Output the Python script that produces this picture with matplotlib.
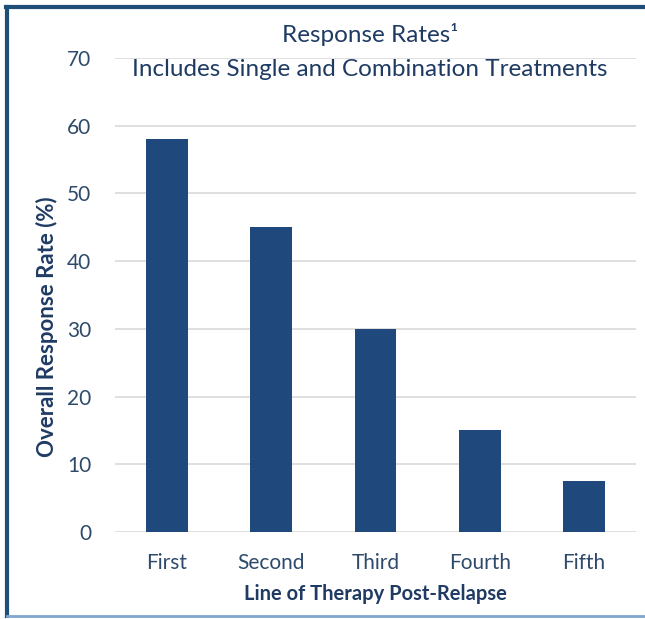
import matplotlib.pyplot as plt
from matplotlib.lines import Line2D

# response rate by line of therapy post-relapse
lines = ["First", "Second", "Third", "Fourth", "Fifth"]
response_rate = [58, 45, 30, 15, 7.5]
y_ticks = [0, 10, 20, 30, 40, 50, 60, 70]

BAR_COLOR = "#1F497D"
TEXT_COLOR = "#1F3B63"
TICK_COLOR = "#2E4A6B"
GRID_COLOR = "#D9D9D9"

plt.rcParams["font.family"] = ["Lato", "DejaVu Sans"]

fig = plt.figure(figsize=(6.45, 6.19), dpi=100)
ax = fig.add_axes([115 / 645, 1 - 532 / 619, 521 / 645, (532 - 58) / 619])

x = range(len(lines))
ax.bar(x, response_rate, width=0.4, color=BAR_COLOR, zorder=3)

ax.set_xlim(-0.5, len(lines) - 0.5)
ax.set_ylim(0, 70)
ax.set_yticks(y_ticks)
ax.set_xticks(list(x))
ax.set_xticklabels(lines)
ax.yaxis.grid(True, color=GRID_COLOR, linewidth=1.2, zorder=0)
ax.set_axisbelow(True)
for side in ["top", "right", "left", "bottom"]:
    ax.spines[side].set_visible(False)
ax.tick_params(axis="both", length=0, labelsize=15, colors=TICK_COLOR)
ax.tick_params(axis="x", pad=15)
ax.tick_params(axis="y", pad=17)

ax.set_xlabel("Line of Therapy Post-Relapse", fontsize=14.5, fontweight="bold",
              color=TEXT_COLOR, labelpad=8)
# y label sits a little below the middle of the axis
fig.text(47 / 645, 1 - 327 / 619, "Overall Response Rate (%)", rotation=90,
         ha="center", va="center", fontsize=16, fontweight="bold", color=TEXT_COLOR)

fig.text(370 / 645, 1 - 35 / 619, "Response Rates\u00b9", ha="center", va="center",
         fontsize=17.5, color=TEXT_COLOR)
fig.text(370 / 645, 1 - 69 / 619, "Includes Single and Combination Treatments",
         ha="center", va="center", fontsize=17.5, color=TEXT_COLOR)

# frame around the chart: dark top and left, lighter bottom
fig.add_artist(Line2D([7 / 645, 7 / 645], [1 - 7 / 619, 1 - 616 / 619],
                      transform=fig.transFigure, color="#1F4E79", linewidth=3))
fig.add_artist(Line2D([5.5 / 645, 1.0], [1 - 7 / 619, 1 - 7 / 619],
                      transform=fig.transFigure, color="#1F4E79", linewidth=3))
fig.add_artist(Line2D([7 / 645, 1.0], [1 - 616 / 619, 1 - 616 / 619],
                      transform=fig.transFigure, color="#7FA7CF", linewidth=2))

fig.savefig("out.png", dpi=100)
